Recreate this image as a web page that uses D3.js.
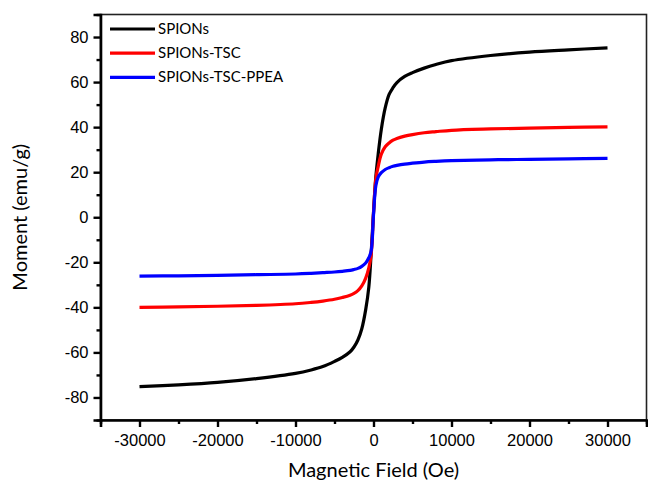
<!DOCTYPE html>
<html>
<head>
<meta charset="utf-8">
<script src="https://cdn.jsdelivr.net/npm/d3@7"></script>
<style>
  body { margin: 0; background: #fff; }
  svg { display: block; }
</style>
</head>
<body>
<div id="chart"></div>
<script>
// Applied field (Oe)
const fields = [-30000, -25000, -20000, -15000, -10000, -8000, -6500, -5000, -4000, -3000, -2500, -2000, -1500, -1000, -600, -300, 0,
  300, 600, 1000, 1500, 2000, 2500, 3000, 4000, 5000, 6500, 8000, 10000, 15000, 20000, 25000, 30000]

// Moment (emu/g)
const spions = [-75.2, -74.4, -73.3, -71.6, -69.3, -67.8, -66.3, -64, -62.2, -59.7, -57.6, -54.5, -49.5, -41, -31, -16, 2,
  18, 28, 39, 48.5, 54.5, 57.5, 59.8, 62.5, 64.2, 66.2, 67.8, 69.5, 71.8, 73.3, 74.3, 75.2]
const spionsTsc = [-40, -39.8, -39.5, -39.1, -38.4, -37.8, -37.2, -36.4, -35.6, -34.6, -33.8, -32.6, -30.5, -27, -22.5, -16.5, 2,
  17, 22.5, 28, 31.3, 33, 34.2, 35, 36, 36.7, 37.5, 38, 38.6, 39.2, 39.6, 39.9, 40.1]
const spionsTscPpea = [-26.1, -26, -25.8, -25.5, -25.2, -24.9, -24.6, -24.3, -24, -23.6, -23.2, -22.7, -21.8, -20.3, -18, -15, 1,
  14, 17.8, 19.8, 21.2, 22, 22.6, 23, 23.6, 24, 24.5, 24.8, 25.1, 25.5, 25.7, 25.9, 26.1]

const seriesNames = ["SPIONs", "SPIONs-TSC", "SPIONs-TSC-PPEA"]
const seriesColors = ["#000000", "#ff0000", "#0000ff"]
const seriesValues = [spions, spionsTsc, spionsTscPpea]

const xTicks = [-30000, -20000, -10000, 0, 10000, 20000, 30000]
const yTicks = [-80, -60, -40, -20, 0, 20, 40, 60, 80]

const width = 648
const height = 486
const margin = { top: 14.5, right: 1.5, bottom: 66, left: 100.5 }

const svg = d3.select("#chart")
  .append("svg")
  .attr("width", width)
  .attr("height", height)

const x = d3.scaleLinear()
  .domain([-35000, 35000])
  .range([margin.left, width - margin.right])

const y = d3.scaleLinear()
  .domain([-90, 90])
  .range([height - margin.bottom, margin.top])

// Curves
const line = d3.line()
  .x((d, i) => x(fields[i]))
  .y(d => y(d))
  .curve(d3.curveCatmullRom.alpha(0.5))

seriesValues.forEach((vals, k) => {
  svg.append("path")
    .datum(vals)
    .attr("fill", "none")
    .attr("stroke", seriesColors[k])
    .attr("stroke-width", 3.2)
    .attr("stroke-linejoin", "round")
    .attr("d", line)
})

// Frame (top and right)
svg.append("rect")
  .attr("x", margin.left)
  .attr("y", margin.top)
  .attr("width", width - margin.right - margin.left)
  .attr("height", height - margin.bottom - margin.top)
  .attr("fill", "none")
  .attr("stroke", "#222")
  .attr("stroke-width", 1.6)

// Minor ticks
const xMinor = d3.range(-35000, 35001, 5000).filter(v => v % 10000 !== 0)
const yMinor = d3.range(-90, 91, 10).filter(v => v % 20 !== 0)

const xAxis = svg.append("g")
  .attr("transform", `translate(0,${height - margin.bottom})`)
  .call(d3.axisBottom(x).tickValues(xTicks).tickSize(7).tickPadding(7).tickFormat(d => String(d)))
xAxis.append("g")
  .call(d3.axisBottom(x).tickValues(xMinor).tickSize(4).tickFormat(""))
  .select(".domain").remove()

const yAxis = svg.append("g")
  .attr("transform", `translate(${margin.left},0)`)
  .call(d3.axisLeft(y).tickValues(yTicks).tickSize(7).tickPadding(5).tickFormat(d => String(d)))
yAxis.append("g")
  .call(d3.axisLeft(y).tickValues(yMinor).tickSize(4).tickFormat(""))
  .select(".domain").remove()

svg.selectAll(".domain")
  .attr("stroke", "#000")
  .attr("stroke-width", 2.6)
svg.selectAll(".tick line")
  .attr("stroke", "#000")
  .attr("stroke-width", 2.4)
svg.selectAll(".tick text")
  .attr("fill", "#000")
  .attr("font-family", "Liberation Sans, Arial, sans-serif")
  .attr("font-size", "16.5px")

// Axis titles
svg.append("text")
  .attr("x", x(0))
  .attr("y", 477)
  .attr("text-anchor", "middle")
  .attr("font-family", "Lato, Open Sans, sans-serif")
  .attr("font-size", "20px")
  .text("Magnetic Field (Oe)")

svg.append("text")
  .attr("transform", `translate(27,${y(0)}) rotate(-90)`)
  .attr("text-anchor", "middle")
  .attr("font-family", "Lato, Open Sans, sans-serif")
  .attr("font-size", "20px")
  .text("Moment (emu/g)")

// Legend
const legend = svg.append("g")
seriesNames.forEach((name, k) => {
  const ly = 29 + k * 24.2
  legend.append("line")
    .attr("x1", 110).attr("x2", 155)
    .attr("y1", ly).attr("y2", ly)
    .attr("stroke", seriesColors[k])
    .attr("stroke-width", 3.2)
  legend.append("text")
    .attr("x", 158)
    .attr("y", ly + 5)
    .attr("font-family", "Lato, Open Sans, sans-serif")
    .attr("font-size", "15px")
    .text(name)
})
</script>
</body>
</html>
